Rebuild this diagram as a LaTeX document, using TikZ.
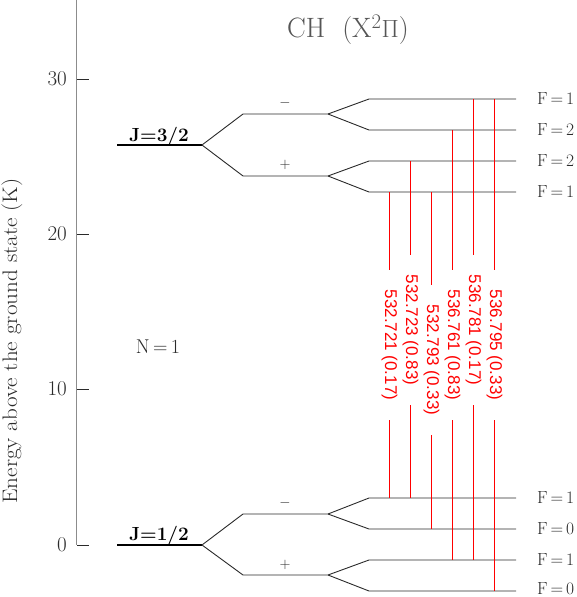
\documentclass[tikz,border=0pt]{standalone}
\usepackage{fontspec}
\usepackage{amsmath}
\usepackage{tikz}
\usetikzlibrary{positioning}
\newfontfamily\labfont{Liberation Sans}
\definecolor{grigiolivello}{HTML}{2A2A2A}
\definecolor{grigioasse}{HTML}{8C8C8C}
\definecolor{grigiotitolo}{HTML}{555555}
\definecolor{rosso}{HTML}{FF0000}

\begin{document}
\begin{tikzpicture}[x=1pt, y=-1pt,
    lev/.style={color=grigiolivello, line width=0.9pt},
    jlev/.style={color=black, line width=2.2pt},
    trans/.style={draw=rosso, line width=1.2pt},
    translab/.style={font=\labfont\fontsize{17}{17}\selectfont, text=rosso, rotate=-90, inner xsep=20pt, inner ysep=0pt},
    flab/.style={font=\fontsize{17.5}{17.5}\selectfont, color=grigiolivello, inner sep=0pt},
    jlab/.style={font=\bfseries\fontsize{19}{19}\selectfont, inner sep=0pt, anchor=base},
    segno/.style={font=\fontsize{15}{15}\selectfont, color=grigiolivello, inner sep=0pt},
    ticklab/.style={font=\fontsize{21}{21}\selectfont, color=grigiolivello, anchor=east, inner sep=0pt}]
    \useasboundingbox (0,0) rectangle (576,597);

    % Asse delle energie
    \coordinate (atop) at (76.5,0);
    \coordinate (abot) at (76.5,545);
    \draw[color=grigioasse, line width=1.3pt] (atop) -- (abot);
    \draw[color=grigiolivello, line width=0.9pt] (77,545) -- (89,545) (77,389) -- (89,389) (77,234) -- (89,234) (77,79) -- (89,79);
    \node[ticklab] (t0) at (67,545) {0};
    \node[ticklab] (t10) at (67,389) {10};
    \node[ticklab] (t20) at (67,234) {20};
    \node[ticklab] (t30) at (67,79) {30};
    \node[rotate=90, font=\fontsize{21}{21}\selectfont, color=grigiolivello, inner sep=0pt] (ylab) at (12,341) {\scalebox{1.1}[1]{Energy above the ground state (K)}};

    \node[font=\fontsize{28}{28}\selectfont, color=grigiotitolo] (titolo) at (348,30) {CH\ \ (X$^2\Pi$)};
    \node[flab, font=\fontsize{20}{20}\selectfont] (nlab) at (158,347) {N\,=\,1};

    % Livelli J
    \coordinate (j32a) at (117,145);
    \coordinate (j32b) at (202,145);
    \coordinate (j12a) at (117,545);
    \coordinate (j12b) at (202,545);
    \draw[jlev] (j32a) -- (j32b);
    \draw[jlev] (j12a) -- (j12b);
    \node[jlab] (lj32) at (159,141) {J=3/2};
    \node[jlab] (lj12) at (159,540) {J=1/2};

    % Doppietti di parita
    \coordinate (m32a) at (243,114);
    \coordinate (m32b) at (328,114);
    \coordinate (p32a) at (243,176);
    \coordinate (p32b) at (328,176);
    \coordinate (m12a) at (243,514);
    \coordinate (m12b) at (328,514);
    \coordinate (p12a) at (243,575);
    \coordinate (p12b) at (328,575);
    \draw[lev] (j32b) -- (m32a) -- (m32b);
    \draw[lev] (j32b) -- (p32a) -- (p32b);
    \draw[lev] (j12b) -- (m12a) -- (m12b);
    \draw[lev] (j12b) -- (p12a) -- (p12b);
    \node[segno] (meno32) at (285,103) {$-$};
    \node[segno] (piu32) at (285,165) {$+$};
    \node[segno] (meno12) at (285,503) {$-$};
    \node[segno] (piu12) at (285,565) {$+$};

    % Livelli iperfini
    \coordinate (h1a) at (369,99);  \coordinate (h1b) at (516,99);
    \coordinate (h2a) at (369,130); \coordinate (h2b) at (516,130);
    \coordinate (h3a) at (369,161); \coordinate (h3b) at (516,161);
    \coordinate (h4a) at (369,192); \coordinate (h4b) at (516,192);
    \coordinate (h5a) at (369,498); \coordinate (h5b) at (516,498);
    \coordinate (h6a) at (369,529); \coordinate (h6b) at (516,529);
    \coordinate (h7a) at (369,560); \coordinate (h7b) at (516,560);
    \coordinate (h8a) at (369,591); \coordinate (h8b) at (516,591);
    \draw[lev] (m32b) -- (h1a) -- (h1b);
    \draw[lev] (m32b) -- (h2a) -- (h2b);
    \draw[lev] (p32b) -- (h3a) -- (h3b);
    \draw[lev] (p32b) -- (h4a) -- (h4b);
    \draw[lev] (m12b) -- (h5a) -- (h5b);
    \draw[lev] (m12b) -- (h6a) -- (h6b);
    \draw[lev] (p12b) -- (h7a) -- (h7b);
    \draw[lev] (p12b) -- (h8a) -- (h8b);
    \node[flab, right=21pt of h1b] (f1) {F\,=\,1};
    \node[flab, right=21pt of h2b] (f2) {F\,=\,2};
    \node[flab, right=21pt of h3b] (f3) {F\,=\,2};
    \node[flab, right=21pt of h4b] (f4) {F\,=\,1};
    \node[flab, right=21pt of h5b] (f5) {F\,=\,1};
    \node[flab, right=21pt of h6b] (f6) {F\,=\,0};
    \node[flab, right=21pt of h7b] (f7) {F\,=\,1};
    \node[flab, right=21pt of h8b, yshift=2.5pt] (f8) {F\,=\,0};

    % Transizioni
    \coordinate (r1u) at (389.5,192); \coordinate (r1d) at (389.5,498);
    \coordinate (r2u) at (410.5,161); \coordinate (r2d) at (410.5,498);
    \coordinate (r3u) at (431.5,192); \coordinate (r3d) at (431.5,529);
    \coordinate (r4u) at (452.5,130); \coordinate (r4d) at (452.5,560);
    \coordinate (r5u) at (473.5,99);  \coordinate (r5d) at (473.5,560);
    \coordinate (r6u) at (494.5,99);  \coordinate (r6d) at (494.5,591);
    \node[translab] (l1) at (389.5,345) {532.721 (0.17)};
    \node[translab] (l2) at (410.5,330) {532.723 (0.83)};
    \node[translab] (l3) at (431.5,360) {532.793 (0.33)};
    \node[translab] (l4) at (452.5,345) {536.761 (0.83)};
    \node[translab] (l5) at (473.5,330) {536.781 (0.17)};
    \node[translab] (l6) at (494.5,345) {536.795 (0.33)};
    \draw[trans] (r1u) -- (l1.west) (l1.east) -- (r1d);
    \draw[trans] (r2u) -- (l2.west) (l2.east) -- (r2d);
    \draw[trans] (r3u) -- (l3.west) (l3.east) -- (r3d);
    \draw[trans] (r4u) -- (l4.west) (l4.east) -- (r4d);
    \draw[trans] (r5u) -- (l5.west) (l5.east) -- (r5d);
    \draw[trans] (r6u) -- (l6.west) (l6.east) -- (r6d);
\end{tikzpicture}
\end{document}
